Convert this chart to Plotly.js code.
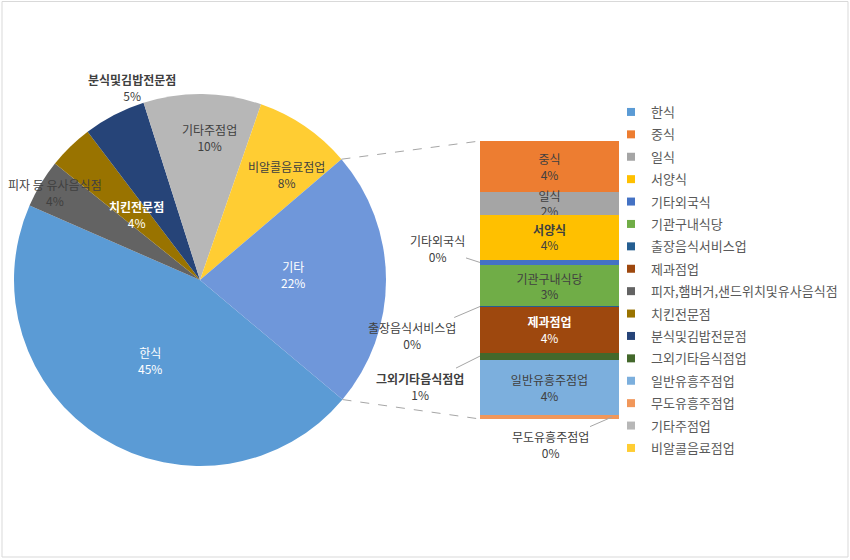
<!DOCTYPE html>
<html>
<head>
<meta charset="utf-8">
<script src="https://cdn.plot.ly/plotly-3.0.1.min.js"></script>
<style>
  body { margin: 0; background: #fff; }
  #chart { width: 850px; height: 560px; }
</style>
</head>
<body>
<div id="chart"></div>
<script>
// main pie, clockwise from 한식; the last slice (기타) is the sum of the bar
var pieNames = ['한식', '피자,햄버거,샌드위치및유사음식점', '치킨전문점', '분식및김밥전문점', '기타주점업', '비알콜음료점업'];
var pieLabels = ['한식', '피자 등 유사음식점', '치킨전문점', '분식및김밥전문점', '기타주점업', '비알콜음료점업'];
var pieValues = [45.3, 4.2, 3.9, 5.4, 10.2, 8.4];
var otherLabel = '기타';

// secondary bar, top to bottom
var barNames = ['중식', '일식', '서양식', '기타외국식', '기관구내식당', '출장음식서비스업', '제과점업', '그외기타음식점업', '일반유흥주점업', '무도유흥주점업'];
var barValues = [4.05, 1.86, 3.6, 0.46, 3.28, 0.04, 3.68, 0.55, 4.45, 0.32];

var legendNames = ['한식', '중식', '일식', '서양식', '기타외국식', '기관구내식당', '출장음식서비스업', '제과점업',
  '피자,햄버거,샌드위치및유사음식점', '치킨전문점', '분식및김밥전문점', '그외기타음식점업', '일반유흥주점업',
  '무도유흥주점업', '기타주점업', '비알콜음료점업'];

var colors = {
  '한식': '#5B9BD5', '중식': '#ED7D31', '일식': '#A5A5A5', '서양식': '#FFC000',
  '기타외국식': '#4472C4', '기관구내식당': '#70AD47', '출장음식서비스업': '#255E91',
  '제과점업': '#9E480E', '피자,햄버거,샌드위치및유사음식점': '#636363', '치킨전문점': '#997300',
  '분식및김밥전문점': '#264478', '그외기타음식점업': '#43682B', '일반유흥주점업': '#7CAFDD',
  '무도유흥주점업': '#F1975A', '기타주점업': '#B7B7B7', '비알콜음료점업': '#FFCD33'
};
var otherColor = '#6F97DA';

var FONT = '"Noto Sans CJK KR", "Noto Sans", sans-serif';
var W = 850, H = 560;
var CX = 200, CY = 280, R = 186;    // pie centre / radius in px
var ROT = 130;                      // 한식 starts here (deg clockwise from 12 o'clock)

// label styling / placement (radius fraction, angle nudge in deg)
var pieLabelR = [0.51, 0.91, 0.49, 1.1, 0.77, 0.73, 0.5];
var pieLabelDA = [0, 0, 0, 8, 3, 5, -3];
var pieLabelColor = ['#FFFFFF', '#404040', '#FFFFFF', '#404040', '#404040', '#404040', '#FFFFFF'];
var pieLabelBold = [false, false, true, true, false, false, false];

var barLabelColor = ['#404040', '#404040', '#404040', '#404040', '#404040', '#404040', '#FFFFFF', '#404040', '#404040', '#404040'];
var barLabelBold = [false, false, true, false, false, false, true, true, false, false];
var barLabelInside = [true, true, true, false, true, false, true, false, true, false];
// outside label: tip x (axis units) and text offset
var barLabelOut = {
  '기타외국식': {x: -0.5, ax: -43, ay: -14},
  '출장음식서비스업': {x: -0.5, ax: -68, ay: 29},
  '그외기타음식점업': {x: -0.5, ax: -60, ay: 30},
  '무도유흥주점업': {x: 0.45, ax: -62, ay: 27}
};

var barTotal = barValues.reduce(function (a, b) { return a + b; }, 0);
var allValues = pieValues.concat([barTotal]);
var total = allValues.reduce(function (a, b) { return a + b; }, 0);
function pct(v) { return Math.round(v / total * 100) + '%'; }
function bold(s, b) { return b ? '<b>' + s + '</b>' : s; }

var data = [];

// pie
data.push({
  type: 'pie',
  labels: pieLabels.concat([otherLabel]),
  values: allValues,
  sort: false,
  direction: 'clockwise',
  rotation: ROT,
  textinfo: 'none',
  hoverinfo: 'label+percent',
  marker: {colors: pieNames.map(function (n) { return colors[n]; }).concat([otherColor])},
  domain: {x: [(CX - R) / W, (CX + R) / W], y: [1 - (CY + R) / H, 1 - (CY - R) / H]},
  showlegend: false
});

// stacked bar (y axis reversed so the first one sits on top)
barNames.forEach(function (n, i) {
  data.push({
    type: 'bar',
    x: [otherLabel],
    y: [barValues[i]],
    name: n,
    marker: {color: colors[n], line: {width: 0}},
    text: barLabelInside[i] ? [bold(n, barLabelBold[i]) + '<br>' + pct(barValues[i])] : [''],
    textposition: barLabelInside[i] ? 'inside' : 'none',
    insidetextanchor: 'middle',
    textangle: 0,
    constraintext: 'none',
    textfont: {family: FONT, size: 12, color: barLabelColor[i]},
    hoverinfo: 'name+y',
    showlegend: false
  });
});

// legend entries
legendNames.forEach(function (n, i) {
  data.push({
    type: 'scatter',
    mode: 'markers',
    x: [null], y: [null],
    name: n,
    legendgroup: 'g' + i,
    marker: {symbol: 'square', size: 8, color: colors[n]},
    hoverinfo: 'skip'
  });
});

var annotations = [];
var shapes = [];

function piePoint(deg, rf) {
  var a = deg * Math.PI / 180;
  return [(CX + rf * R * Math.sin(a)) / W, 1 - (CY - rf * R * Math.cos(a)) / H];
}

// pie labels
var cum = 0;
allValues.forEach(function (v, i) {
  var mid = ROT + (cum + v / 2) / total * 360 + pieLabelDA[i];
  cum += v;
  var p = piePoint(mid, pieLabelR[i]);
  var lab = i < pieLabels.length ? pieLabels[i] : otherLabel;
  annotations.push({
    xref: 'paper', yref: 'paper', x: p[0], y: p[1],
    xanchor: 'center', yanchor: 'middle',
    text: bold(lab, pieLabelBold[i]) + '<br>' + pct(v),
    showarrow: false,
    font: {family: FONT, size: 12, color: pieLabelColor[i]}
  });
});

// bar labels outside
var stackTop = 0;
barNames.forEach(function (n, i) {
  var o = barLabelOut[n];
  if (o) {
    annotations.push({
      xref: 'x', yref: 'y', x: o.x, y: stackTop + barValues[i] / 2,
      ax: o.ax, ay: o.ay,
      text: bold(n, barLabelBold[i]) + '<br>' + pct(barValues[i]),
      showarrow: true, arrowhead: 0, arrowwidth: 1, arrowcolor: '#A6A6A6', standoff: 0,
      font: {family: FONT, size: 12, color: barLabelColor[i]}
    });
  }
  stackTop += barValues[i];
});

// connector lines pie -> bar
var xDom = [480 / W, 619 / W];
var yDom = [1 - 419 / H, 1 - 141 / H];
var startOther = ROT - barTotal / total * 360;
var p1 = piePoint(startOther, 1), p2 = piePoint(ROT, 1);
shapes.push({type: 'line', xref: 'paper', yref: 'paper', x0: p1[0], y0: p1[1], x1: xDom[0], y1: yDom[1],
  line: {color: '#A6A6A6', width: 1, dash: 'dash'}});
shapes.push({type: 'line', xref: 'paper', yref: 'paper', x0: p2[0], y0: p2[1], x1: xDom[0], y1: yDom[0],
  line: {color: '#A6A6A6', width: 1, dash: 'dash'}});
// chart border
shapes.push({type: 'rect', xref: 'paper', yref: 'paper', x0: 2 / W, y0: 1 - 557 / H, x1: 848 / W, y1: 1 - 1.5 / H,
  line: {color: '#D9D9D9', width: 1}});

var layout = {
  width: W, height: H,
  margin: {l: 0, r: 0, t: 0, b: 0},
  paper_bgcolor: '#FFFFFF',
  plot_bgcolor: 'rgba(0,0,0,0)',
  font: {family: FONT, size: 12, color: '#595959'},
  barmode: 'stack',
  bargap: 0,
  xaxis: {domain: xDom, type: 'category', range: [-0.5, 0.5], visible: false, fixedrange: true},
  yaxis: {domain: yDom, range: [barTotal, 0], visible: false, fixedrange: true},
  showlegend: true,
  legend: {
    x: 611 / W, y: 1 - 97 / H, xanchor: 'left', yanchor: 'top',
    font: {family: FONT, size: 13, color: '#595959'},
    tracegroupgap: 2.5,
    itemwidth: 30,
    bgcolor: 'rgba(0,0,0,0)'
  },
  annotations: annotations,
  shapes: shapes
};

Plotly.newPlot('chart', data, layout, {displayModeBar: false, staticPlot: true});
</script>
</body>
</html>
